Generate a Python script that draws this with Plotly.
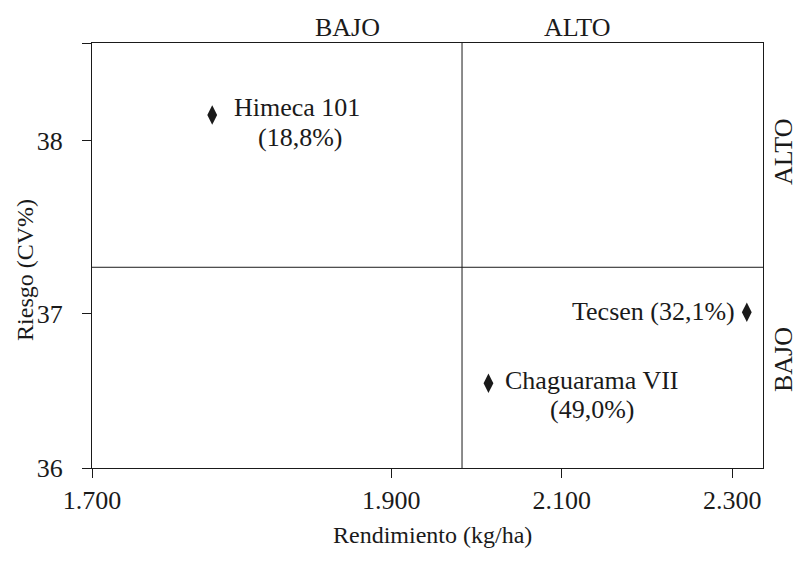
import plotly.graph_objects as go

# Variedades: rendimiento (kg/ha, en miles) y riesgo (CV%)
variedades = ["Himeca 101", "Chaguarama VII", "Tecsen"]
rendimiento = [1.690, 2.014, 2.317]
riesgo = [38.15, 36.60, 37.01]
participacion = ["18,8%", "49,0%", "32,1%"]

# Umbrales que dividen los cuadrantes
umbral_rend = 1.983
umbral_riesgo = 37.27

# Ejes (el origen lleva la etiqueta del primer valor de la escala)
x_min, x_max = 1.549, 2.336
y_min, y_max = 36.11, 38.566
x_ticks = [x_min, 1.9, 2.1, 2.3]
x_ticktext = ["1.700", "1.900", "2.100", "2.300"]
y_ticks = [y_min, 37, 38, y_max]
y_ticktext = ["36", "37", "38", ""]

FONT = "Liberation Serif, Times New Roman, serif"
INK = "#1a1a1a"
FS = 26
FS_TITLE = 24


def txt(size=FS, **kw):
    kw.setdefault("xanchor", "center")
    kw.setdefault("yanchor", "middle")
    return dict(showarrow=False, font=dict(family=FONT, size=size, color=INK), **kw)


fig = go.Figure()
fig.add_trace(go.Scatter(
    x=rendimiento, y=riesgo, mode="markers",
    marker=dict(symbol="diamond-tall", size=14, color=INK),
    hoverinfo="skip", showlegend=False,
))

# Líneas de cuadrante
fig.add_shape(type="line", xref="x", yref="paper", x0=umbral_rend, x1=umbral_rend,
              y0=0, y1=1, line=dict(color=INK, width=1))
fig.add_shape(type="line", xref="paper", yref="y", x0=0, x1=1,
              y0=umbral_riesgo, y1=umbral_riesgo, line=dict(color=INK, width=1))

# Etiquetas de los puntos: nombre y participación
h, c, t = 0, 1, 2
fig.add_annotation(**txt(x=rendimiento[h], y=riesgo[h], text=variedades[h],
                         xanchor="left", xshift=20, yshift=7))
fig.add_annotation(**txt(x=rendimiento[h], y=riesgo[h], text=f"({participacion[h]})",
                         xshift=88, yshift=-23))
fig.add_annotation(**txt(x=rendimiento[c], y=riesgo[c], text=variedades[c],
                         xanchor="left", xshift=15, yshift=3))
fig.add_annotation(**txt(x=rendimiento[c], y=riesgo[c], text=f"({participacion[c]})",
                         xshift=104, yshift=-26))
fig.add_annotation(**txt(x=rendimiento[t], y=riesgo[t],
                         text=f"{variedades[t]} ({participacion[t]})",
                         xanchor="right", xshift=-10, yshift=1))

# Rótulos de nivel: rendimiento (arriba) y riesgo (derecha)
fig.add_annotation(**txt(x=0.3815, y=1, xref="paper", yref="paper", text="BAJO",
                         yshift=16))
fig.add_annotation(**txt(x=0.7228, y=1, xref="paper", yref="paper", text="ALTO",
                         yshift=16))
fig.add_annotation(**txt(x=1, y=0.7435, xref="paper", yref="paper", text="ALTO",
                         textangle=-90, xshift=20))
fig.add_annotation(**txt(x=1, y=0.254, xref="paper", yref="paper", text="BAJO",
                         textangle=-90, xshift=20))

# Títulos de los ejes
fig.add_annotation(**txt(size=FS_TITLE, x=0.507, y=0, xref="paper", yref="paper",
                         text="Rendimiento (kg/ha)", yshift=-67))
fig.add_annotation(**txt(size=FS_TITLE, x=0, y=0.466, xref="paper", yref="paper",
                         text="Riesgo (CV%)", textangle=-90, xshift=-67))

axis_common = dict(showline=True, linecolor=INK, linewidth=1, mirror=True,
                   ticks="outside", ticklen=9, tickcolor=INK, tickwidth=1,
                   showgrid=False, zeroline=False,
                   tickfont=dict(family=FONT, size=FS, color=INK))

fig.update_xaxes(range=[x_min, x_max], tickvals=x_ticks, ticktext=x_ticktext,
                 **axis_common)
fig.update_yaxes(range=[y_min, y_max], tickvals=y_ticks, ticktext=y_ticktext,
                 ticklabelstandoff=14, **axis_common)

fig.update_layout(
    width=798, height=577,
    margin=dict(l=92, r=35, t=43, b=109),
    paper_bgcolor="white", plot_bgcolor="white",
    font=dict(family=FONT, size=FS, color=INK),
)

fig.write_html("out.html")
